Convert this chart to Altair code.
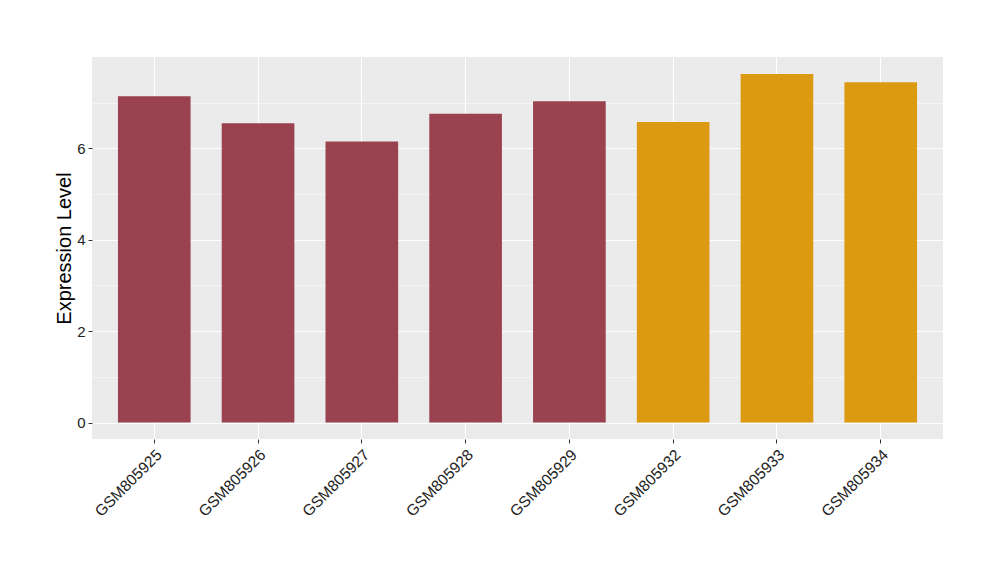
import altair as alt
import pandas as pd

samples = ["GSM805925", "GSM805926", "GSM805927", "GSM805928", "GSM805929",
           "GSM805932", "GSM805933", "GSM805934"]
values = [7.14, 6.55, 6.15, 6.76, 7.03, 6.58, 7.63, 7.45]
groups = ["A", "A", "A", "A", "A", "B", "B", "B"]
group_colors = ["#9A4250", "#DC9A13"]

df = pd.DataFrame({"sample": samples, "value": values, "group": groups})

chart = alt.Chart(df).mark_bar().encode(
    x=alt.X("sample:N", sort=samples,
            scale=alt.Scale(paddingInner=0.3, paddingOuter=0.25),
            axis=alt.Axis(title=None, labelAngle=-45, labelAlign="right",
                          labelBaseline="top", labelFontSize=15.5, labelColor="#222222",
                          labelFont="Liberation Sans", labelPadding=4,
                          tickColor="#333333", tickSize=4, domain=False,
                          grid=True, gridColor="white", gridWidth=1.1,
                          bandPosition=0.5)),
    y=alt.Y("value:Q", scale=alt.Scale(domain=[-0.36, 8.0], nice=False, zero=False),
            axis=alt.Axis(title="Expression Level", values=[0, 1, 2, 3, 4, 5, 6, 7],
                          labelExpr="datum.value % 2 === 0 ? datum.label : ''",
                          tickOpacity={"condition": {"test": "datum.value % 2 === 1", "value": 0}, "value": 1},
                          gridWidth={"condition": {"test": "datum.value % 2 === 1", "value": 0.5}, "value": 1.1},
                          gridColor="white", domain=False,
                          labelFontSize=15, labelColor="#222222", labelFont="Liberation Sans",
                          tickColor="#333333", tickSize=4, labelPadding=3,
                          titleFont="Liberation Sans", titleFontSize=20,
                          titleFontWeight="normal", titleColor="black", titlePadding=2)),
    color=alt.Color("group:N", scale=alt.Scale(domain=["A", "B"], range=group_colors),
                    legend=None),
).properties(
    width=851, height=382,
    autosize=alt.AutoSizeParams(type="none"),
    padding={"left": 84, "top": 49, "right": 40, "bottom": 125},
).configure_view(fill="#EBEBEB", stroke=None)

chart.save("out.html", embed_options={"renderer": "svg", "actions": False})
